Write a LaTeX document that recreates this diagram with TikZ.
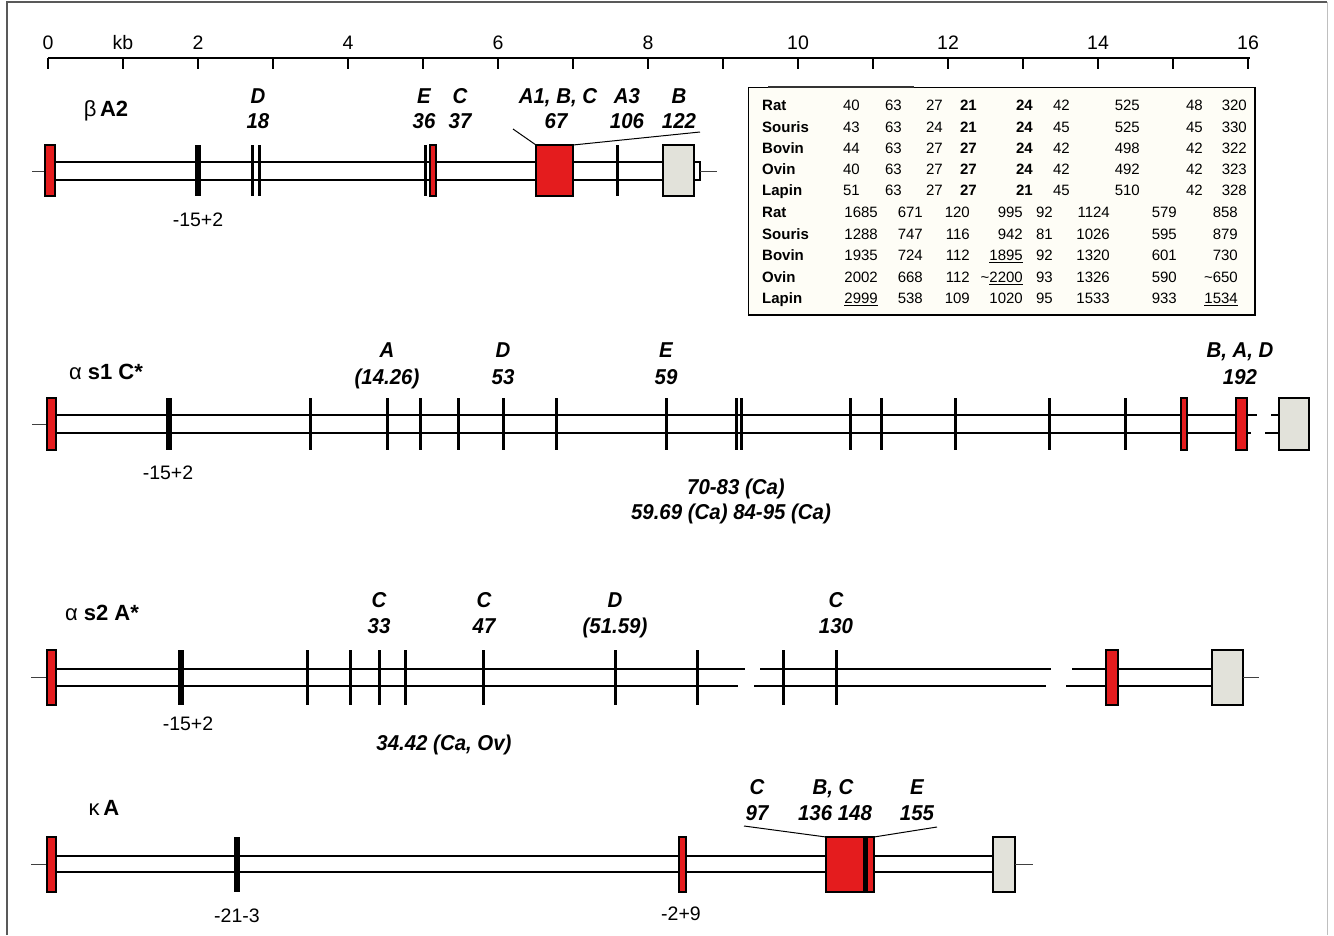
\documentclass[tikz,border=0pt]{standalone}
\usepackage{fontspec}
\setmainfont{Liberation Sans}
\newfontfamily\labfont[FakeStretch=0.95]{Liberation Sans}
\definecolor{exred}{RGB}{228,28,30}
\definecolor{exgray}{RGB}{226,226,218}
\definecolor{tabbg}{RGB}{254,253,246}
\begin{document}
\begin{tikzpicture}[x=1pt,y=-1pt,
 gl/.style={line width=1.8pt},
 tb/.style={line width=3pt},
 tk/.style={line width=6pt},
 rex/.style={fill=exred, draw=black, line width=1.4pt},
 gex/.style={fill=exgray, draw=black, line width=1.8pt},
 stub/.style={line width=1pt, draw=black!75},
 ldr/.style={line width=1pt},
 lab/.style={font=\labfont\bfseries\itshape\fontsize{21.5}{21.5}\selectfont, inner sep=0pt, text height=15.4pt, text depth=0pt},
 num/.style={font=\fontsize{19.5}{19.5}\selectfont, inner sep=0pt, text height=14pt, text depth=0pt},
 gname/.style={font=\fontsize{22}{22}\selectfont, inner sep=0pt, text height=15.8pt, text depth=0pt},
 tl/.style={font=\bfseries\fontsize{15}{15}\selectfont, inner sep=0pt, anchor=west, text height=10.8pt, text depth=0pt},
 tn/.style={font=\fontsize{15}{15}\selectfont, inner sep=0pt, anchor=east, text height=10.8pt, text depth=0pt},
 tnb/.style={tn, font=\bfseries\fontsize{15}{15}\selectfont},
]
\useasboundingbox (0,0) rectangle (1334,935);
\fill[white] (0,0) rectangle (1334,935);
% frame
\draw[black!65, line width=1.6pt] (7,935) -- (7,2) -- (1327,2);
\draw[black!25, line width=1pt] (1327,2) -- (1327,935);

% ---------- axis ----------
\draw[line width=1.3pt] (48,58) -- (1250,58);
\foreach \k in {0,...,16} \draw[line width=1.3pt] ({48+75*\k},58) -- ({48+75*\k},69);
\foreach \k/\t in {0/0,1/kb,2/2,4/4,6/6,8/8,10/10,12/12,14/14,16/16}
  \node[num] (ax\k) at ({48+75*\k},42) {\t};

% ---------- beta A2 ----------
\draw[stub] (32,171) -- (45,171);
\draw[gl] (55,162) -- (663,162);
\draw[gl] (55,180) -- (663,180);
\draw[rex] (45,145) rectangle (55,196);
\draw[tk] (198,145) -- (198,196);
\draw[tb] (252,145) -- (252,196);
\draw[tb] (259,145) -- (259,196);
\draw[tb] (425,145) -- (425,196);
\draw[rex] (430,145) rectangle (436,196);
\draw[rex] (536,145) rectangle (573,196);
\draw[tb] (617,145) -- (617,196);
\draw[gex] (663,145) rectangle (694,196);
\draw[fill=white, line width=1.2pt] (694,162) rectangle (700,180);
\draw[stub] (700,171) -- (717,171);
\draw[ldr] (513,129) -- (536,145);
\draw[ldr] (573,145) -- (700,132);
\node[gname] (nb) at (106,109) {β\,\textbf{A2}};
\node[lab] (b1) at (258,96) {D};
\node[lab] (b1n) at (258,121) {18};
\node[lab] (b2) at (424,96) {E};
\node[lab] (b2n) at (424,121) {36};
\node[lab] (b3) at (460,96) {C};
\node[lab] (b3n) at (460,121) {37};
\node[lab] (b4) at (558,96) {A1, B, C};
\node[lab] (b4n) at (556,121) {67};
\node[lab] (b5) at (627,96) {A3};
\node[lab] (b5n) at (627,121) {106};
\node[lab] (b6) at (679,96) {B};
\node[lab] (b6n) at (679,121) {122};
\node[num] (bp) at (198,219) {-15+2};

% ---------- table ----------
\fill[tabbg] (748,87) rectangle (1255,315);
\draw[line width=1pt] (748,315) -- (748,87) -- (1255,87);
\draw[line width=2.6pt] (748,315) -- (1255,315) -- (1255,87);
\draw[line width=2pt, black!80] (768,87) -- (914,87);
\foreach \nm/\yy/\a/\b/\c/\d/\e/\f/\g/\h/\i in {
  Rat/105/40/63/27/21/24/42/525/48/320,
  Souris/127/43/63/24/21/24/45/525/45/330,
  Bovin/148/44/63/27/27/24/42/498/42/322,
  Ovin/169/40/63/27/27/24/42/492/42/323,
  Lapin/190/51/63/27/27/21/45/510/42/328}{
  \node[tl] (ta\yy) at (762,\yy) {\nm};
  \node[tn] (ta\yy a) at (860,\yy) {\a};
  \node[tn] (ta\yy b) at (902,\yy) {\b};
  \node[tn] (ta\yy c) at (943,\yy) {\c};
  \node[tnb] (ta\yy d) at (977,\yy) {\d};
  \node[tnb] (ta\yy e) at (1033,\yy) {\e};
  \node[tn] (ta\yy f) at (1070,\yy) {\f};
  \node[tn] (ta\yy g) at (1140,\yy) {\g};
  \node[tn] (ta\yy h) at (1203,\yy) {\h};
  \node[tn] (ta\yy i) at (1247,\yy) {\i};
}
\foreach \nm/\yy/\a/\b/\c/\d/\e/\f/\g/\h in {
  Rat/212/1685/671/120/995/92/1124/579/858,
  Souris/234/1288/747/116/942/81/1026/595/879,
  Bovin/255/1935/724/112/{\underline{1895}}/92/1320/601/730,
  Ovin/277/2002/668/112/{\textasciitilde\underline{2200}}/93/1326/590/{\textasciitilde 650},
  Lapin/298/{\underline{2999}}/538/109/1020/95/1533/933/{\underline{1534}}}{
  \node[tl] (tb\yy) at (762,\yy) {\nm};
  \node[tn] (tb\yy a) at (878,\yy) {\a};
  \node[tn] (tb\yy b) at (923,\yy) {\b};
  \node[tn] (tb\yy c) at (970,\yy) {\c};
  \node[tn] (tb\yy d) at (1023,\yy) {\d};
  \node[tn] (tb\yy e) at (1053,\yy) {\e};
  \node[tn] (tb\yy f) at (1110,\yy) {\f};
  \node[tn] (tb\yy g) at (1177,\yy) {\g};
  \node[tn] (tb\yy h) at (1238,\yy) {\h};
}

% ---------- alpha s1 C* ----------
\draw[stub] (32,424) -- (47,424);
\draw[gl] (56,415) -- (1257,415);
\draw[gl] (56,433) -- (1251,433);
\draw[gl] (1271,415) -- (1279,415);
\draw[gl] (1265,433) -- (1279,433);
\draw[gex] (1279,398) rectangle (1309,450);
\draw[rex] (47,398) rectangle (56,450);
\draw[tk] (169,398) -- (169,450);
\foreach \xx in {310,387,420,458,503,556,666,736,741,850,881,955,1049,1125}
  \draw[tb] (\xx,398) -- (\xx,450);
\draw[rex] (1181,398) rectangle (1187,450);
\draw[rex] (1236,398) rectangle (1247,450);
\node[gname] (na1) at (106,372) {α \textbf{s1 C*}};
\node[lab] (a1) at (387,350) {A};
\node[lab] (a1n) at (387,377) {(14.26)};
\node[lab] (a2) at (503,350) {D};
\node[lab] (a2n) at (503,377) {53};
\node[lab] (a3) at (666,350) {E};
\node[lab] (a3n) at (666,377) {59};
\node[lab] (a4) at (1240,350) {B, A, D};
\node[lab] (a4n) at (1240,377) {192};
\node[num] (ap) at (168,472) {-15+2};
\node[lab] (ac1) at (736,487) {70-83 (Ca)};
\node[lab] (ac2) at (731,512) {59.69 (Ca) 84-95 (Ca)};

% ---------- alpha s2 A* ----------
\draw[stub] (31,677) -- (47,677);
\draw[gl] (56,669) -- (745,669);
\draw[gl] (56,686) -- (738,686);
\draw[gl] (760,669) -- (1051,669);
\draw[gl] (754,686) -- (1046,686);
\draw[gl] (1072,669) -- (1212,669);
\draw[gl] (1066,686) -- (1212,686);
\draw[rex] (47,650) rectangle (56,705);
\draw[tk] (181,650) -- (181,705);
\foreach \xx in {307,350,379,405,483,615,697,783,836}
  \draw[tb] (\xx,650) -- (\xx,705);
\draw[rex] (1106,650) rectangle (1118,705);
\draw[gex] (1212,650) rectangle (1243,705);
\draw[stub] (1243,677) -- (1259,677);
\node[gname] (na2) at (102,613) {α \textbf{s2 A*}};
\node[lab] (s1) at (379,600) {C};
\node[lab] (s1n) at (379,626) {33};
\node[lab] (s2) at (484,600) {C};
\node[lab] (s2n) at (484,626) {47};
\node[lab] (s3) at (615,600) {D};
\node[lab] (s3n) at (615,626) {(51.59)};
\node[lab] (s4) at (836,600) {C};
\node[lab] (s4n) at (836,626) {130};
\node[num] (sp) at (188,723) {-15+2};
\node[lab] (sc) at (444,743) {34.42 (Ca, Ov)};

% ---------- kappa A ----------
\draw[stub] (31,864) -- (47,864);
\draw[gl] (56,856) -- (993,856);
\draw[gl] (56,872) -- (993,872);
\draw[rex] (47,837) rectangle (56,892);
\draw[tk] (237,837) -- (237,892);
\draw[rex] (679,837) rectangle (686,892);
\draw[rex] (826,837) rectangle (874,892);
\fill[black] (863,837) rectangle (868,892);
\draw[gex] (993,837) rectangle (1015,892);
\draw[stub] (1015,864) -- (1033,864);
\draw[ldr] (744,826) -- (826,837);
\draw[ldr] (874,837) -- (937,827);
\node[gname] (nk) at (104,808) {κ\,\textbf{A}};
\node[lab] (k1) at (757,787) {C};
\node[lab] (k1n) at (757,813) {97};
\node[lab] (k2) at (833,787) {B, C};
\node[lab] (k2n) at (835,813) {136 148};
\node[lab] (k3) at (917,787) {E};
\node[lab] (k3n) at (917,813) {155};
\node[num] (kp1) at (237,915) {-21-3};
\node[num] (kp2) at (681,913) {-2+9};
\end{tikzpicture}
\end{document}
